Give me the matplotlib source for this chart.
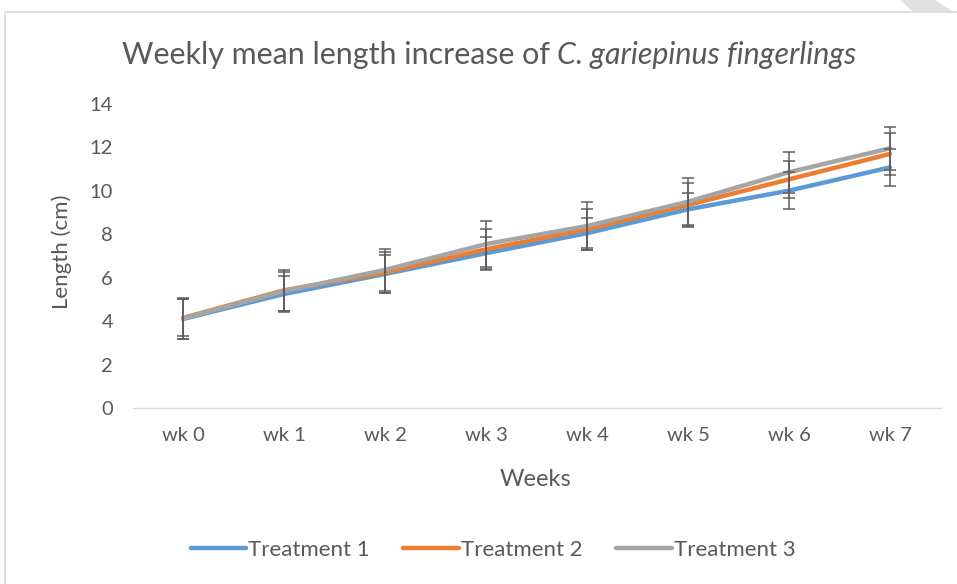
import matplotlib
matplotlib.use("Agg")
import matplotlib.pyplot as plt
from matplotlib.patches import Rectangle, Polygon
import numpy as np

weeks = ["wk 0", "wk 1", "wk 2", "wk 3", "wk 4", "wk 5", "wk 6", "wk 7"]
series_names = ["Treatment 1", "Treatment 2", "Treatment 3"]
t1 = [4.10, 5.25, 6.17, 7.13, 8.05, 9.15, 10.01, 11.08]
t2 = [4.15, 5.42, 6.24, 7.31, 8.23, 9.35, 10.53, 11.70]
t3 = [4.12, 5.38, 6.36, 7.55, 8.38, 9.50, 10.86, 11.96]
e1 = [0.90, 0.85, 0.86, 0.75, 0.70, 0.75, 0.85, 0.85]
e2 = [0.85, 0.95, 0.94, 0.95, 0.95, 1.00, 0.85, 0.95]
e3 = [0.95, 0.90, 0.97, 1.05, 1.10, 1.08, 0.95, 1.00]
yticks = [0, 2, 4, 6, 8, 10, 12, 14]

colors = ["#5B9BD5", "#ED7D31", "#A5A5A5"]
txt = "#595959"
font = "Lato"

W, H = 957, 584
fig = plt.figure(figsize=(W / 100, H / 100), dpi=100)

# outer chart border
fig.patches.append(Rectangle((5 / W, -0.05), 1.1, 1 - 12 / H + 0.05, transform=fig.transFigure,
                             fill=False, edgecolor="#D9D9D9", linewidth=1.2))
fig.patches.append(Polygon([(900 / W, 1), (935 / W, 1), (952 / W, 1 - 11 / H), (912 / W, 1 - 11 / H)],
                           closed=True, transform=fig.transFigure, facecolor="#E0E0E0", edgecolor="none"))

ax = fig.add_axes([132.5 / W, 1 - 408 / H, 808 / W, 304 / H])
x = np.arange(len(weeks))
for vals, c, n in zip([t1, t2, t3], colors, series_names):
    ax.plot(x, vals, color=c, linewidth=3.2, solid_capstyle="round", label=n, zorder=3)
for vals, errs in zip([t1, t2, t3], [e1, e2, e3]):
    ax.errorbar(x, vals, yerr=errs, fmt="none", ecolor="#5F5F5F", elinewidth=1.1,
                capsize=4.6, capthick=1.1, zorder=4)

ax.set_xlim(-0.5, len(weeks) - 0.5)
ax.set_ylim(0, 14)
ax.set_yticks(yticks)
ax.set_yticklabels([str(v) for v in yticks])
ax.set_xticks(x)
ax.set_xticklabels(weeks)
for s in ["top", "right", "left"]:
    ax.spines[s].set_visible(False)
ax.spines["bottom"].set_color("#D9D9D9")
ax.spines["bottom"].set_linewidth(1.0)
ax.tick_params(axis="both", length=0, labelcolor=txt, labelsize=14.5)
ax.tick_params(axis="y", pad=14)
ax.tick_params(axis="x", pad=14)
for lab in ax.get_xticklabels() + ax.get_yticklabels():
    lab.set_fontfamily(font)

fig.text(62 / W, 1 - 252 / H, "Length (cm)", rotation=90, ha="center", va="center",
         fontsize=16, color=txt, fontfamily=font)
fig.text(536 / W, 1 - 480 / H, "Weeks", ha="center", va="center",
         fontsize=17, color=txt, fontfamily=font)

# title with italic part, scaled to the reference width
fig.canvas.draw()
r = fig.canvas.get_renderer()
fs = 20
t_a = fig.text(0, 1 - 55 / H, "Weekly mean length increase of ", ha="left", va="center",
               fontsize=fs, color=txt, fontfamily=font)
t_b = fig.text(0, 1 - 55 / H, "C. gariepinus fingerlings", ha="left", va="center",
               fontsize=fs, color=txt, fontfamily=font, fontstyle="italic")
wa = t_a.get_window_extent(r).width
wb = t_b.get_window_extent(r).width
fs = fs * 735 / (wa + wb)
t_a.set_fontsize(fs)
t_b.set_fontsize(fs)
wa = t_a.get_window_extent(r).width
wb = t_b.get_window_extent(r).width
start = 489 - (wa + wb) / 2
t_a.set_x(start / W)
t_b.set_x((start + wa) / W)

leg = fig.legend(loc="center", bbox_to_anchor=(493 / W, 1 - 550 / H), ncol=3, frameon=False,
                 handlelength=2.5, handletextpad=0.1, columnspacing=1.5,
                 prop={"family": font, "size": 16})
for h in leg.get_lines():
    h.set_linewidth(3.2)
for t in leg.get_texts():
    t.set_color(txt)

fig.savefig("out.png", dpi=100)
